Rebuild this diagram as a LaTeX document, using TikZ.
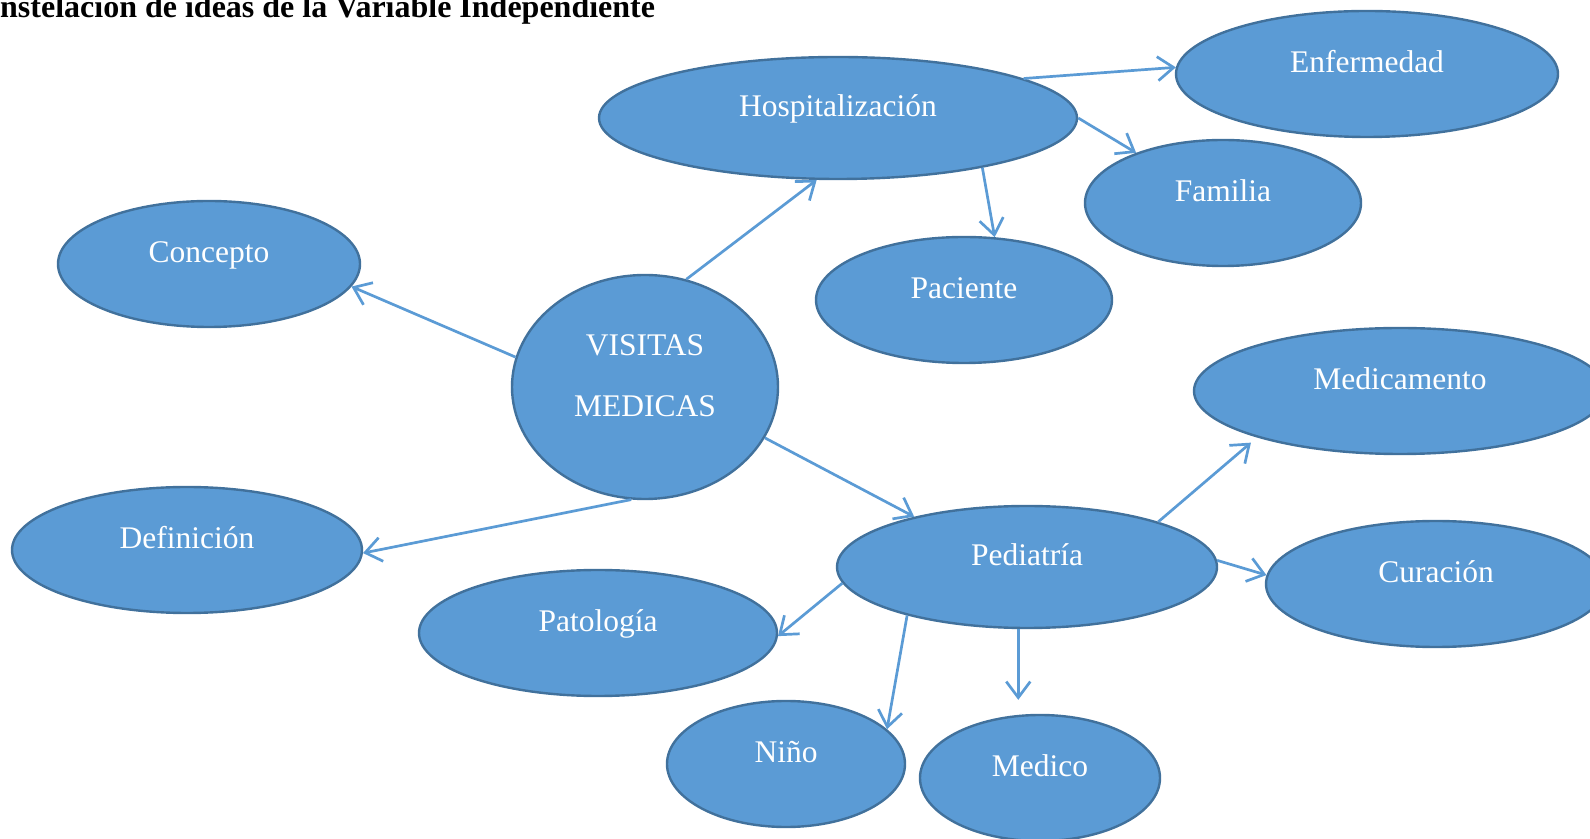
\documentclass[tikz,border=0pt]{standalone}
\usepackage{fontspec}
\setmainfont{Liberation Serif}
\usetikzlibrary{arrows.meta,shapes.geometric}
\definecolor{fillblue}{HTML}{5B9BD5}
\definecolor{edgeblue}{HTML}{41719C}
\begin{document}
\begin{tikzpicture}[x=1pt,y=1pt,
  bubble/.style={ellipse,draw=edgeblue,fill=fillblue,line width=2.4pt,inner sep=0pt},
  lbl/.style={text=white,font=\fontsize{31.5}{38}\selectfont,anchor=base,inner sep=0pt},
  link/.style={draw=fillblue,line width=2.7pt,-{Straight Barb[length=16pt,width=24pt,line width=2.7pt]}}]
\useasboundingbox (0,0) rectangle (1590,838);
\clip (0,0) rectangle (1590,838);
\node[anchor=base west,inner sep=0pt,font=\bfseries\fontsize{32}{38}\selectfont] (title) at (0,820.5) {nstelacion de ideas de la Variable Independiente};
% ellipses
\node[bubble,minimum width=266pt,minimum height=224pt] (vis) at (645,451) {};
\node[bubble,minimum width=478pt,minimum height=122pt] (hosp) at (838,720) {};
\node[bubble,minimum width=382pt,minimum height=126pt] (enf) at (1367,764) {};
\node[bubble,minimum width=276pt,minimum height=126pt] (fam) at (1223,635) {};
\node[bubble,minimum width=302pt,minimum height=126pt] (con) at (209,574) {};
\node[bubble,minimum width=296pt,minimum height=126pt] (pac) at (964,538) {};
\node[bubble,minimum width=412pt,minimum height=126pt] (medi) at (1400,447) {};
\node[bubble,minimum width=350pt,minimum height=126pt] (def) at (187,288) {};
\node[bubble,minimum width=380pt,minimum height=122pt] (ped) at (1027,271) {};
\node[bubble,minimum width=340pt,minimum height=126pt] (cur) at (1436,254) {};
\node[bubble,minimum width=358pt,minimum height=126pt] (pat) at (598,205) {};
\node[bubble,minimum width=238pt,minimum height=126pt] (nino) at (786,74) {};
\node[bubble,minimum width=240pt,minimum height=126pt] (med) at (1040,60) {};
% labels
\node[lbl] (visA) at ([yshift=31pt]vis.center) {VISITAS};
\node[lbl] (visB) at ([yshift=-30pt]vis.center) {MEDICAS};
\node[lbl] (hospT) at ([yshift=1pt]hosp.center) {Hospitalización};
\node[lbl] (enfT) at ([yshift=1pt]enf.center) {Enfermedad};
\node[lbl] (famT) at ([yshift=1pt]fam.center) {Familia};
\node[lbl] (conT) at ([yshift=1pt]con.center) {Concepto};
\node[lbl] (pacT) at ([yshift=1pt]pac.center) {Paciente};
\node[lbl] (mediT) at ([yshift=1pt]medi.center) {Medicamento};
\node[lbl] (defT) at ([yshift=1pt]def.center) {Definición};
\node[lbl] (pedT) at ([yshift=1pt]ped.center) {Pediatría};
\node[lbl] (curT) at ([yshift=1pt]cur.center) {Curación};
\node[lbl] (patT) at ([yshift=1pt]pat.center) {Patología};
\node[lbl] (ninoT) at ([yshift=1pt]nino.center) {Niño};
\node[lbl] (medT) at ([yshift=1pt]med.center) {Medico};
% connectors
\draw[link] (vis.69) -- (hosp.251);
\draw[link] (vis.167) -- (con.-9);
\draw[link] (vis.-97) -- (def.-1);
\draw[link] (vis.-23) -- (ped.156);
\draw[link] (hosp.12) -- (enf.178);
\draw[link] (hosp.0) -- (fam.150);
\draw[link] (hosp.-19) -- (pac.64);
\draw[link,shorten >=8pt] (ped.19) -- (medi.198);
\draw[link] (ped.2) -- (cur.177);
\draw[link] (ped.185) -- (pat.-1);
\draw[link] (ped.-158) -- (nino.19);
\draw[link,shorten >=14pt] (ped.-98.5) -- (ped.-98.5 |- med.north);
\end{tikzpicture}
\end{document}
